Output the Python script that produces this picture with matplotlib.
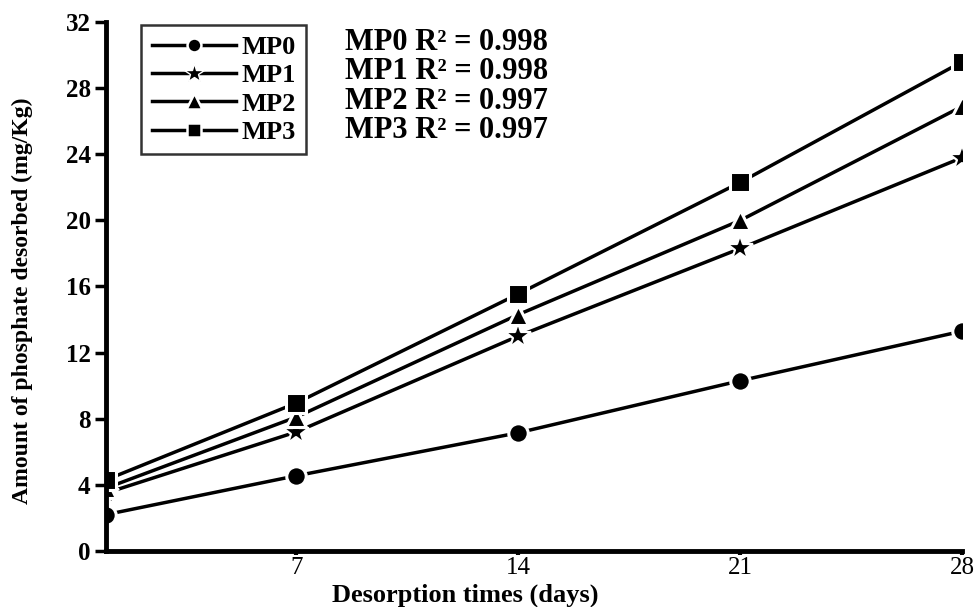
import matplotlib
matplotlib.use("Agg")
import matplotlib.pyplot as plt

days = [1, 7, 14, 21, 28]
mp0 = [2.2, 4.55, 7.15, 10.3, 13.3]
mp1 = [3.5, 7.2, 13.0, 18.3, 23.8]
mp2 = [3.8, 8.1, 14.3, 20.0, 26.9]
mp3 = [4.3, 8.95, 15.55, 22.3, 29.6]
names = ["MP0", "MP1", "MP2", "MP3"]
r2 = ["0.998", "0.998", "0.997", "0.997"]
markers = ["o", "*", "^", "s"]
sizes = [14, 19, 15, 14]
edgew = [2.2, 1.6, 2.2, 2.2]
leg_sizes = [10, 15, 11, 10]
leg_edgew = [1.8, 1.0, 1.8, 1.8]
xticks = [7, 14, 21, 28]
yticks = [0, 4, 8, 12, 16, 20, 24, 28, 32]

plt.rcParams['font.family'] = ['Liberation Serif', 'DejaVu Serif']

fig = plt.figure(figsize=(9.77, 6.07), dpi=100)
ax = fig.add_axes([0.1085, 0.0923, 0.8765, 0.8715])

for ser, name, m, s, ew in zip([mp0, mp1, mp2, mp3], names, markers, sizes, edgew):
    ax.plot(days, ser, color='black', lw=2.5, marker=m, ms=s,
            mfc='black', mec='white', mew=ew, label=name, clip_on=True)

ax.set_xlim(1, 28)
ax.set_ylim(0, 32)
ax.set_xticks(xticks)
ax.set_yticks(yticks)
ax.set_xticklabels([str(t) for t in xticks], fontsize=18)
ax.set_yticklabels([str(t) for t in yticks], fontsize=18, fontweight='bold')

for side in ['top', 'right']:
    ax.spines[side].set_visible(False)
for side in ['left', 'bottom']:
    ax.spines[side].set_linewidth(3.5)
ax.tick_params(axis='y', direction='out', length=8, width=2.5, pad=3)
ax.tick_params(axis='x', direction='out', length=3, width=3, pad=1)

ax.set_xlabel("Desorption times (days)", fontsize=19, fontweight='bold')
ax.xaxis.set_label_coords(0.42, -0.083)
ax.xaxis.label.set_va('center')
ax.set_ylabel("Amount of phosphate desorbed (mg/Kg)", fontsize=17, fontweight='bold')
ax.yaxis.set_label_coords(-0.098, 0.473)
ax.yaxis.label.set_va('center')

leg = ax.legend(loc='upper left', bbox_to_anchor=(0.041, 0.994), frameon=True,
                fancybox=False, edgecolor='black', handlelength=3.2,
                prop={'weight': 'bold', 'size': 19}, borderpad=0.4,
                labelspacing=0.18, handletextpad=0.2, borderaxespad=0)
leg.get_frame().set_linewidth(1.8)
for h, ls, le in zip(leg.legend_handles, leg_sizes, leg_edgew):
    h.set_markersize(ls)
    h.set_markeredgewidth(le)

for i, (n, r) in enumerate(zip(names, r2)):
    ax.text(0.279, 0.988 - i * 0.055, f"{n} R\u00b2 = {r}", transform=ax.transAxes,
            fontsize=22, fontweight='bold', va='top', ha='left')

fig.savefig("out.png", dpi=100)
